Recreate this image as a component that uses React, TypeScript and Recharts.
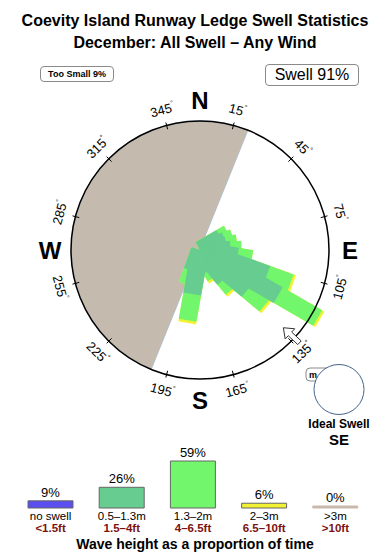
import React from 'react';
import {
  PieChart, Pie, Cell, RadialBarChart, RadialBar, PolarAngleAxis, PolarRadiusAxis, PolarGrid,
  BarChart, Bar, XAxis, YAxis, LabelList,
} from 'recharts';

const FONT = '"Liberation Sans", Arial, Helvetica, sans-serif';

// swell rose: % of time per direction (10 deg bins), split by wave height band
const roseDirs = [60, 70, 80, 90, 100, 110, 120, 130, 140, 150, 160, 190, 200];
const roseSmall = [2.8, 3.1, 3.1, 3.5, 4.4, 8.3, 10.5, 7.2, 4.4, 2.6, 1.7, 5.2, 2.6]; // 0.5-1.3m
const roseMid = [1.0, 1.0, 1.3, 1.3, 1.7, 2.9, 5.3, 2.7, 1.5, 1.0, 0.8, 3.1, 1.7]; // 1.3-2m
const roseBig = [0, 0, 0, 0, 0, 0.3, 0.3, 0.3, 0.3, 0.3, 0.3, 0.3, 0]; // 2-3m

// sheltered half of the compass (starts at 22 deg going through west)
const shelterStart = 22;
const exposure = [
  { name: 'Sheltered', value: 180 },
  { name: 'Open', value: 180 },
];

const degreeTicks = [0, 15, 45, 75, 90, 105, 135, 165, 180, 195, 225, 255, 270, 285, 315, 345];
const cardinals: Record<number, string> = { 0: 'N', 90: 'E', 180: 'S', 270: 'W' };

// wave height legend
const heightBands = ['no swell', '0.5\u20131.3m', '1.3\u20132m', '2\u20133m', '>3m'];
const heightFeet = ['<1.5ft', '1.5\u20134ft', '4\u20136.5ft', '6.5\u201310ft', '>10ft'];
const heightShare = [9, 26, 59, 6, 0];

const COLORS = {
  none: '#5b4ff2',
  small: '#66cc8f',
  mid: '#72f66c',
  big: '#f2f232',
  huge: '#c9b9ad',
  land: '#c4baae',
};
const bandColors = [COLORS.none, COLORS.small, COLORS.mid, COLORS.big, COLORS.huge];

const CX = 200;
const CY = 250;
const R = 129;

const compassBins = Array.from({ length: 36 }, (_, i) => i * 10);
const roseTable = compassBins.map((dir) => {
  const i = roseDirs.indexOf(dir);
  const s = i < 0 ? 0 : roseSmall[i];
  const m = i < 0 ? 0 : roseMid[i];
  const b = i < 0 ? 0 : roseBig[i];
  return { dir, smallTop: s, midTop: s + m, bigTop: s + m + b };
});

const heightTable = heightBands.map((band, i) => ({ band, feet: heightFeet[i], share: heightShare[i] }));

const RAD = Math.PI / 180;

// rose bars are drawn as straight strips rather than wedges
const RoseBar = (props: any) => {
  const { cx, cy, outerRadius, startAngle, endAngle, fill } = props;
  if (!outerRadius || outerRadius <= 0) return null;
  const mid = ((startAngle + endAngle) / 2) * RAD;
  const ux = Math.cos(-mid);
  const uy = Math.sin(-mid);
  const px = -uy;
  const py = ux;
  const h = 9;
  const tx = cx + ux * outerRadius;
  const ty = cy + uy * outerRadius;
  const pts = [
    [cx + px * h, cy + py * h],
    [tx + px * h, ty + py * h],
    [tx - px * h, ty - py * h],
    [cx - px * h, cy - py * h],
  ].map((p) => p.join(',')).join(' ');
  return <polygon points={pts} fill={fill} />;
};

const CompassTick = (props: any) => {
  const { x, y, payload } = props;
  const deg = payload.value;
  const a = deg * RAD;
  const ux = Math.sin(a);
  const uy = -Math.cos(a);
  if (cardinals[deg]) {
    return (
      <text x={x + ux * 5} y={y + uy * 5} textAnchor="middle" dominantBaseline="central"
        fontFamily={FONT} fontSize={24} fontWeight="bold" fill="#000">
        {cardinals[deg]}
      </text>
    );
  }
  const rot = deg <= 90 ? deg : deg < 270 ? deg - 180 : deg - 360;
  return (
    <g>
      <line x1={x - ux * 20} y1={y - uy * 20} x2={x - ux * 13} y2={y - uy * 13} stroke="#000" strokeWidth={1} />
      <text x={x} y={y} textAnchor="middle" dominantBaseline="central" fontFamily={FONT} fontSize={13}
        fill="#000" transform={`rotate(${rot} ${x} ${y})`}>
        {deg}
        <tspan fontSize={7} dy={-5}>°</tspan>
      </text>
    </g>
  );
};

const HeightTick = (props: any) => {
  const { x, y, payload, index } = props;
  return (
    <g>
      <text x={x} y={y} textAnchor="middle" dominantBaseline="central" fontFamily={FONT} fontSize={11.5} fill="#000">
        {payload.value}
      </text>
      <text x={x} y={y + 12} textAnchor="middle" dominantBaseline="central" fontFamily={FONT} fontSize={11.5}
        fontWeight="bold" fill="#7a1212">
        {heightFeet[index]}
      </text>
    </g>
  );
};

const roseLayer = (key: 'smallTop' | 'midTop' | 'bigTop', color: string) => (
  <div style={{ position: 'absolute', left: 0, top: 0 }}>
    <RadialBarChart width={390} height={560} cx={CX} cy={CY} innerRadius={0} outerRadius={172}
      startAngle={85} endAngle={-275} layout="centric" data={roseTable}
      margin={{ top: 0, right: 0, bottom: 0, left: 0 }}>
      <PolarAngleAxis type="category" dataKey="dir" tick={false} axisLine={false} tickLine={false} />
      <PolarRadiusAxis type="number" domain={[0, 20]} tick={false} axisLine={false} />
      <RadialBar dataKey={key} fill={color} shape={RoseBar} isAnimationActive={false} />
    </RadialBarChart>
  </div>
);

const arrowDir = 133;
const arrowPath = () => {
  const a = arrowDir * RAD;
  const ux = Math.sin(a);
  const uy = -Math.cos(a);
  const px = -uy;
  const py = ux;
  const pt = (r: number, w: number) => `${CX + ux * r + px * w},${CY + uy * r + py * w}`;
  return [pt(114, 0), pt(123, 7), pt(123, 2.5), pt(136, 2.5), pt(136, -2.5), pt(123, -2.5), pt(123, -7)].join(' ');
};

const boxStyle: React.CSSProperties = {
  position: 'absolute',
  border: '1px solid #8a8a8a',
  borderRadius: 4,
  fontFamily: FONT,
  color: '#000',
  background: '#fff',
  boxSizing: 'border-box',
  textAlign: 'center',
};

export default function App() {
  return (
    <div style={{ position: 'absolute', left: 0, top: 0, width: 390, height: 560, background: '#fff', overflow: 'hidden' }}>
      <div style={{ position: 'absolute', left: 0, top: 10, width: 390, textAlign: 'center', fontFamily: FONT, fontWeight: 'bold', fontSize: 16, lineHeight: '22px', color: '#000' }}>
        Coevity Island Runway Ledge Swell Statistics
        <br />
        December: All Swell &#8211; Any Wind
      </div>
      <div style={{ ...boxStyle, left: 40, top: 66, width: 74, height: 16, fontSize: 9, fontWeight: 'bold', lineHeight: '14px' }}>
        Too Small 9%
      </div>
      <div style={{ ...boxStyle, left: 265, top: 64, width: 94, height: 22, fontSize: 16, lineHeight: '20px' }}>
        Swell 91%
      </div>

      <div style={{ position: 'absolute', left: 0, top: 0 }}>
        <PieChart width={390} height={560} margin={{ top: 0, right: 0, bottom: 0, left: 0 }}>
          <Pie data={exposure} dataKey="value" cx={CX} cy={CY} innerRadius={0} outerRadius={R}
            startAngle={90 - shelterStart} endAngle={90 - shelterStart + 360} isAnimationActive={false}>
            <Cell fill={COLORS.land} stroke="#9ec6e6" strokeWidth={1} />
            <Cell fill="#fff" stroke="none" />
          </Pie>
        </PieChart>
      </div>

      {roseLayer('bigTop', COLORS.big)}
      {roseLayer('midTop', COLORS.mid)}
      {roseLayer('smallTop', COLORS.small)}

      <div style={{ position: 'absolute', left: 0, top: 0 }}>
        <RadialBarChart width={390} height={560} cx={CX} cy={CY} innerRadius={0} outerRadius={R}
          startAngle={90} endAngle={-270} data={roseTable} margin={{ top: 0, right: 0, bottom: 0, left: 0 }}>
          <PolarGrid gridType="circle" polarRadius={[R]} polarAngles={[]} radialLines={false} stroke="#000" strokeWidth={1.5} />
          <PolarAngleAxis type="number" dataKey="dir" domain={[0, 360]} ticks={degreeTicks} tick={CompassTick}
            tickLine={false} axisLine={false} tickSize={16} />
          <PolarRadiusAxis type="category" tick={false} axisLine={false} />
        </RadialBarChart>
      </div>

      <svg width={390} height={560} style={{ position: 'absolute', left: 0, top: 0 }}>
        <polygon points={arrowPath()} fill="#fff" stroke="#333" strokeWidth={1} />
        <rect x={306} y={368} width={24} height={13} rx={4} fill="#fff" stroke="#8a8a8a" />
        <text x={309} y={378} fontFamily={FONT} fontSize={9} fontWeight="bold" fill="#000">m</text>
        <circle cx={339} cy={389.5} r={25} fill="#fff" stroke="#44648c" strokeWidth={1} />
        <text x={339} y={424} textAnchor="middle" dominantBaseline="central" fontFamily={FONT} fontSize={12} fontWeight="bold" fill="#000">Ideal Swell</text>
        <text x={339} y={439} textAnchor="middle" dominantBaseline="central" fontFamily={FONT} fontSize={15} fontWeight="bold" fill="#000">SE</text>
      </svg>

      <div style={{ position: 'absolute', left: 0, top: 440 }}>
        <BarChart width={390} height={120} data={heightTable} margin={{ top: 21, right: 19, bottom: 22, left: 15 }} barSize={45}>
          <XAxis dataKey="band" axisLine={false} tickLine={false} tick={HeightTick} interval={0} height={30} />
          <YAxis hide domain={[0, 59]} />
          <Bar dataKey="share" isAnimationActive={false} minPointSize={2}>
            {heightTable.map((d, i) => (
              <Cell key={d.band} fill={bandColors[i]} stroke={d.share > 0 ? '#666' : bandColors[i]} strokeWidth={1} />
            ))}
            <LabelList dataKey="share" position="top" offset={4} formatter={(v: any) => `${v}%`}
              style={{ fontFamily: FONT, fontSize: 13, fill: '#000' }} />
          </Bar>
        </BarChart>
      </div>
      <div style={{ position: 'absolute', left: 0, top: 536, width: 390, textAlign: 'center', fontFamily: FONT, fontWeight: 'bold', fontSize: 14, color: '#000' }}>
        Wave height as a proportion of time
      </div>
    </div>
  );
}
